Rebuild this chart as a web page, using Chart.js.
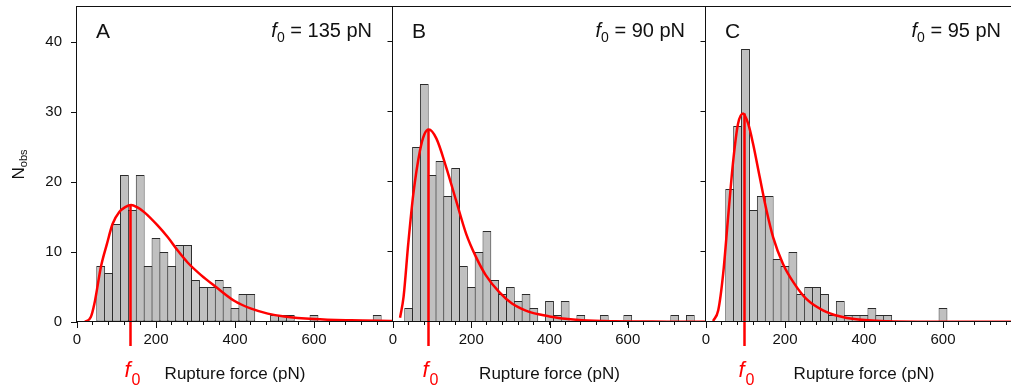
<!DOCTYPE html>
<html><head><meta charset="utf-8">
<script src="https://cdn.jsdelivr.net/npm/chart.js@4.4.1/dist/chart.umd.min.js"></script>
<style>
html,body{margin:0;padding:0;background:#fff;overflow:hidden;width:1011px;height:387px;}
#wrap{position:relative;width:1011px;height:387px;overflow:hidden;background:#fff;}
canvas{position:absolute;left:0;top:0;}
</style></head><body>
<div id="wrap">
<canvas id="cA" width="1030" height="387"></canvas>
<canvas id="cB" width="1030" height="387"></canvas>
<canvas id="cC" width="1030" height="387"></canvas>
</div>
<script>
// ---------- data ----------
const centersA = [60,80,100,120,140,160,180,200,220,240,260,280,300,320,340,360,380,400,420,440,460,480,500,520,540,560,580,600,620,640,660,680,700,720,740,760];
const countsA  = [8,7,14,21,16,21,8,12,10,8,11,11,6,5,5,6,5,2,4,4,0,0,1,1,1,0,0,1,0,0,0,0,0,0,0,1];
const centersB = [40,60,80,100,120,140,160,180,200,220,240,260,280,300,320,340,360,380,400,420,440,460,480,500,520,540,560,580,600,620,640,660,680,700,720,740,760];
const countsB  = [2,25,34,21,23,18,22,8,5,10,13,6,4,5,3,4,2,0,3,1,3,0,1,0,0,1,0,0,1,0,0,0,0,0,1,0,1];
const centersC = [60,80,100,120,140,160,180,200,220,240,260,280,300,320,340,360,380,400,420,440,460,480,500,520,540,560,580,600];
const countsC  = [19,28,39,16,18,18,9,8,10,4,5,5,4,1,3,1,1,1,2,1,1,0,0,0,0,0,0,2];

const curveAx = [20,35,44,61,76,90,107,122,137,152,170,204,230,255,280,314,352,399,441,483,525,600,694,800];
const curveAy = [0,0.7,2.6,8.0,11.2,14.0,15.7,16.4,16.7,16.4,15.7,13.8,12.1,10.2,8.5,6.7,5.0,3.0,1.9,1.2,0.8,0.43,0.24,0.14];
const curveBx = [18,27,39,52,69,80,91.5,111,136,161,187,212,237,271,305,338,372,400,440,483,567,700,800];
const curveBy = [0.6,3.6,11.2,18.3,24.5,26.8,27.5,26.2,22.1,17.4,12.6,9.3,6.7,4.3,2.6,1.67,1.1,0.8,0.45,0.24,0.1,0.05,0.03];
const curveCx = [18,31,43.5,56,69,81,94,107,119,136,153,170,195,221,254,296,338,380,462,550,800];
const curveCy = [0.15,1.67,6.9,15,23.1,28.3,29.8,28.3,25.5,20.7,16,12.1,8.3,5.7,3.3,1.67,0.81,0.38,0.1,0.04,0.02];

const panelLetters = ['A','B','C'];
const f0Values = [135, 90, 95];
const yTicks = [0,10,20,30,40];
const xRange = [0, 800];
const yRange = [0, 45];
const xTickStep = 40, xLabelStep = 200;

// ---------- style ----------
const FONT = '"Liberation Sans", Arial, Helvetica, sans-serif';
const RED = '#ff0000';
const INK = '#111111';
const W = 1030, H = 387;
const TOP = 7, BOTTOM = 322;

function zeroPad(s){ s.paddingTop = 0; s.paddingBottom = 0; s.paddingLeft = 0; s.paddingRight = 0; }

function panelPlugin(p){
  return {
    id: 'panel' + p.letter,
    afterDatasetsDraw(chart){
      const {ctx, chartArea:a, scales:{x, y}} = chart;
      const px = Math.round(x.getPixelForValue(p.f0)) + 0.5;
      const peak = Math.max(...p.curveY);
      ctx.save();
      ctx.strokeStyle = RED; ctx.lineWidth = 2.5;
      ctx.beginPath();
      ctx.moveTo(px, y.getPixelForValue(peak));
      ctx.lineTo(px, a.bottom + 24);
      ctx.stroke();
      ctx.fillStyle = RED;
      ctx.textBaseline = 'alphabetic';
      ctx.textAlign = 'left';
      ctx.font = 'italic 22px ' + FONT;
      ctx.fillText('f', px - 6, 377);
      ctx.font = '16px ' + FONT;
      ctx.fillText('0', px + 1, 385);
      ctx.restore();
    },
    afterDraw(chart){
      const {ctx, chartArea:a, scales:{x, y}} = chart;
      const x0 = Math.round(a.left) - 0.5, x1 = Math.round(a.right) - 0.5;
      const y0 = Math.round(a.top) - 0.5, y1 = Math.round(a.bottom) - 0.5;
      ctx.save();
      ctx.strokeStyle = INK; ctx.lineWidth = 1;
      ctx.strokeRect(x0, y0, x1 - x0, y1 - y0);
      ctx.beginPath();
      // inward ticks on right edge
      yTicks.forEach(v => {
        if (v === yRange[0]) return;
        const yy = Math.round(y.getPixelForValue(v)) - 0.5;
        ctx.moveTo(x1 - 5, yy); ctx.lineTo(x1, yy);
      });
      // longer marks for labelled x ticks
      x.ticks.forEach(t => {
        if (t.value % xLabelStep !== 0 || t.value >= xRange[1]) return;
        const xx = Math.round(x.getPixelForValue(t.value)) + 0.5;
        ctx.moveTo(xx, a.bottom); ctx.lineTo(xx, a.bottom + 6);
      });
      ctx.stroke();
      ctx.fillStyle = INK;
      ctx.textBaseline = 'alphabetic';
      ctx.textAlign = 'left';
      ctx.font = '21px ' + FONT;
      ctx.fillText(p.letter, a.left + 19, 38);
      const fs = 20, ss = 14;
      const rest = ' = ' + p.f0 + ' pN';
      ctx.font = 'italic ' + fs + 'px ' + FONT; const wf = ctx.measureText('f').width;
      ctx.font = ss + 'px ' + FONT; const w0 = ctx.measureText('0').width;
      ctx.font = fs + 'px ' + FONT; const wr = ctx.measureText(rest).width;
      let sx = a.right - 21 - (wf + w0 + wr);
      ctx.font = 'italic ' + fs + 'px ' + FONT; ctx.fillText('f', sx, 37); sx += wf;
      ctx.font = ss + 'px ' + FONT; ctx.fillText('0', sx, 42); sx += w0;
      ctx.font = fs + 'px ' + FONT; ctx.fillText(rest, sx, 37);
      if (p.yAxis) {
        ctx.translate(24, (a.top + a.bottom) / 2);
        ctx.rotate(-Math.PI / 2);
        ctx.font = '17px ' + FONT; const wN = ctx.measureText('N').width;
        ctx.font = '11px ' + FONT; const wo = ctx.measureText('obs').width;
        const start = -(wN + wo) / 2;
        ctx.font = '17px ' + FONT; ctx.fillText('N', start, 0);
        ctx.font = '11px ' + FONT; ctx.fillText('obs', start + wN, 3);
      }
      ctx.restore();
    }
  };
}

function makeChart(p){
  const bars = p.centers.map((c, i) => ({x: c, y: p.counts[i] > 0 ? p.counts[i] : null}));
  const curve = p.curveX.map((v, i) => ({x: v, y: p.curveY[i]}));
  const yScale = {
    type: 'linear', min: yRange[0], max: yRange[1], display: p.yAxis,
    afterBuildTicks: s => { s.ticks = yTicks.map(v => ({value: v})); },
    afterFit: s => { zeroPad(s); if (p.yAxis) s.width = p.area[0]; },
    grid: {drawOnChartArea: false, drawTicks: true, tickLength: 6, color: INK, tickColor: INK},
    border: {display: false},
    ticks: {padding: 9, color: INK, font: {family: FONT, size: 15}}
  };
  return new Chart(document.getElementById(p.id), {
    type: 'bar',
    data: {datasets: [
      {type: 'line', data: curve, borderColor: RED, borderWidth: 2.5, pointRadius: 0,
       cubicInterpolationMode: 'monotone', fill: false, order: 0},
      {type: 'bar', data: bars, backgroundColor: '#c0c0c0', borderColor: '#2b2b2b', borderWidth: 1,
       borderSkipped: false, barPercentage: 1.12, categoryPercentage: 1, order: 1}
    ]},
    options: {
      responsive: false, animation: false, devicePixelRatio: 1,
      layout: {padding: {left: p.yAxis ? 0 : p.area[0], right: W - p.area[1], top: TOP, bottom: 0}},
      plugins: {legend: {display: false}, tooltip: {enabled: false}},
      scales: {
        x: {
          type: 'linear', min: xRange[0], max: xRange[1], offset: false,
          afterFit: s => { zeroPad(s); s.height = H - BOTTOM; },
          grid: {offset: false, drawOnChartArea: false, drawTicks: true, tickLength: 3, color: INK, tickColor: INK},
          border: {display: false},
          ticks: {stepSize: xTickStep, autoSkip: false, maxRotation: 0, padding: 6, color: INK,
                  font: {family: FONT, size: 15},
                  callback: v => (v % xLabelStep === 0 && v < xRange[1]) ? String(v) : ''},
          title: {display: true, text: 'Rupture force (pN)', color: INK,
                  font: {family: FONT, size: 17}, padding: {top: 0, bottom: 2}}
        },
        y: yScale
      }
    },
    plugins: [panelPlugin(p)]
  });
}

const panels = [
  {id: 'cA', letter: panelLetters[0], f0: f0Values[0], centers: centersA, counts: countsA, curveX: curveAx, curveY: curveAy, area: [77, 393], yAxis: true},
  {id: 'cB', letter: panelLetters[1], f0: f0Values[1], centers: centersB, counts: countsB, curveX: curveBx, curveY: curveBy, area: [393, 706], yAxis: false},
  {id: 'cC', letter: panelLetters[2], f0: f0Values[2], centers: centersC, counts: countsC, curveX: curveCx, curveY: curveCy, area: [706, 1022], yAxis: false}
];
panels.forEach(makeChart);
</script>
</body></html>
